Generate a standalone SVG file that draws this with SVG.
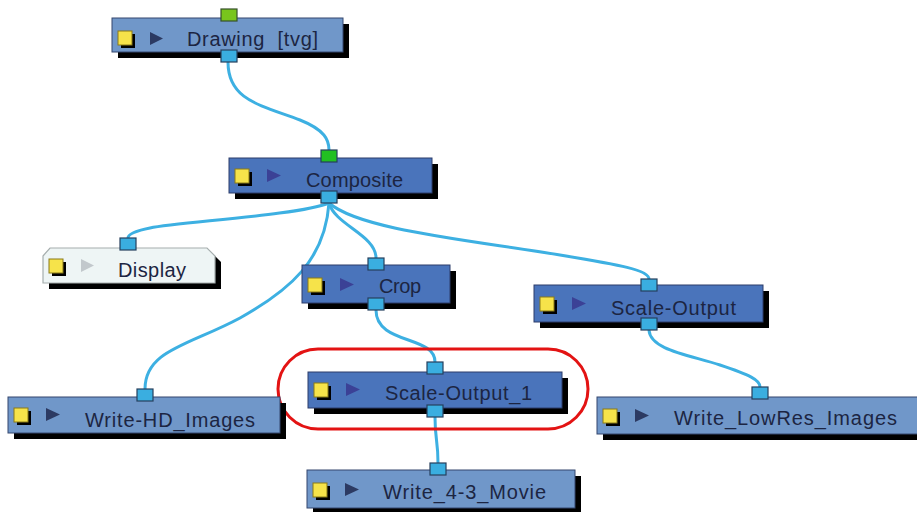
<svg xmlns="http://www.w3.org/2000/svg" width="917" height="512" viewBox="0 0 917 512">
<style>
.bg{fill:#ffffff}
.sh{fill:#000000}
.lt{fill:#7097c9;stroke:#34476e;stroke-width:1}
.dk{fill:#4a74bb;stroke:#2c3d6a;stroke-width:1}
.disp{fill:#eef5f5;stroke:#a6aeae;stroke-width:1.2}
.port{fill:#3aaee0;stroke:#26405e;stroke-width:1.2}
.gport{fill:#22c022;stroke:#26405e;stroke-width:1.2}
.ygport{fill:#78c51c;stroke:#36502a;stroke-width:1.2}
.ysh{fill:#000000}
.ysq{fill:#f6e34a;stroke:#8a7a18;stroke-width:1}
.triL{fill:#2c3a62}
.triD{fill:#3b4196}
.triG{fill:#c2c8cc}
.lbl{font-family:"Liberation Sans",Arial,sans-serif;font-size:20px;fill:#1c2542}
.wire{fill:none;stroke:#3db0e2;stroke-width:3;stroke-linecap:round}
.hl{fill:none;stroke:#e31313;stroke-width:3}
</style>
<rect class="bg" x="0" y="0" width="917" height="512"/>

<g id="connectors">
<path class="wire" d="M228,62 C228,100 260,105 300,120 C325,130 329,140 329,150"/>
<path class="wire" d="M329,203 C300,215 180,222 150,228 C135,231 128,234 128,238"/>
<path class="wire" d="M329,203 C325,260 290,290 240,318 C190,345 145,350 145,389"/>
<path class="wire" d="M329,203 C335,225 376,235 376,258"/>
<path class="wire" d="M329,203 C360,230 470,240 560,255 C620,265 649,270 649,279"/>
<path class="wire" d="M376,310 C376,345 435,335 435,362"/>
<path class="wire" d="M435,417 C435,440 438,440 438,463"/>
<path class="wire" d="M649,330 C650,350 690,355 720,365 C750,375 760,380 760,387"/>
</g>

<g id="node-drawing">
<rect class="sh" x="118" y="24" width="231" height="34"/>
<rect class="lt" x="112" y="18" width="231" height="34"/>
<rect class="ysh" x="121" y="34" width="14" height="14"/>
<rect class="ysq" x="118" y="31" width="14" height="14"/>
<polygon class="triL" points="150,32 163,38.5 150,45"/>
<text class="lbl" x="187" y="46" textLength="131" lengthAdjust="spacing">Drawing&#160; [tvg]</text>
<rect class="ygport" x="221" y="9" width="16" height="12"/>
<rect class="port" x="221" y="50" width="16" height="12"/>
</g>

<g id="node-composite">
<rect class="sh" x="235" y="164" width="203" height="35"/>
<rect class="dk" x="229" y="158" width="203" height="35"/>
<rect class="ysh" x="238" y="172" width="14" height="14"/>
<rect class="ysq" x="235" y="169" width="14" height="14"/>
<polygon class="triD" points="267,169 281,175.5 267,182"/>
<text class="lbl" x="306" y="187" textLength="97" lengthAdjust="spacing">Composite</text>
<rect class="gport" x="321" y="150" width="16" height="12"/>
<rect class="port" x="321" y="191" width="16" height="12"/>
</g>

<g id="node-display">
<path class="sh" d="M49,262 L56,254 L213,254 L221,262 L221,289 L49,289 Z"/>
<path class="disp" d="M43,256 L50,248 L207,248 L215,256 L215,283 L43,283 Z"/>
<rect class="ysh" x="52" y="262" width="14" height="14"/>
<rect class="ysq" x="49" y="259" width="14" height="14"/>
<polygon class="triG" points="81,259 94,265.5 81,272"/>
<text class="lbl" x="118" y="277" textLength="68" lengthAdjust="spacing">Display</text>
<rect class="port" x="120" y="238" width="16" height="12"/>
</g>

<g id="node-crop">
<rect class="sh" x="308" y="271" width="148" height="38"/>
<rect class="dk" x="302" y="265" width="148" height="38"/>
<rect class="ysh" x="311" y="281" width="14" height="14"/>
<rect class="ysq" x="308" y="278" width="14" height="14"/>
<polygon class="triD" points="340,278 354,284.5 340,291"/>
<text class="lbl" x="379" y="293" textLength="42" lengthAdjust="spacing">Crop</text>
<rect class="port" x="368" y="258" width="16" height="12"/>
<rect class="port" x="368" y="298" width="16" height="12"/>
</g>

<g id="node-scale-output">
<rect class="sh" x="540" y="291" width="229" height="37"/>
<rect class="dk" x="534" y="285" width="229" height="37"/>
<rect class="ysh" x="543" y="300" width="14" height="14"/>
<rect class="ysq" x="540" y="297" width="14" height="14"/>
<polygon class="triD" points="572,297 586,303.5 572,310"/>
<text class="lbl" x="611" y="315" textLength="125" lengthAdjust="spacing">Scale-Output</text>
<rect class="port" x="641" y="279" width="16" height="12"/>
<rect class="port" x="641" y="318" width="16" height="12"/>
</g>

<g id="node-scale-output-1">
<rect class="sh" x="314" y="378" width="254" height="36"/>
<rect class="dk" x="308" y="372" width="254" height="36"/>
<rect class="ysh" x="317" y="386" width="14" height="14"/>
<rect class="ysq" x="314" y="383" width="14" height="14"/>
<polygon class="triD" points="346,383 360,389.5 346,396"/>
<text class="lbl" x="385" y="400" textLength="147" lengthAdjust="spacing">Scale-Output_1</text>
<rect class="port" x="427" y="362" width="16" height="12"/>
<rect class="port" x="427" y="405" width="16" height="12"/>
</g>

<g id="highlight">
<rect class="hl" x="278" y="349" width="310" height="80" rx="40" ry="40"/>
</g>

<g id="node-write-hd">
<rect class="sh" x="14" y="403" width="272" height="36"/>
<rect class="lt" x="8" y="397" width="272" height="36"/>
<rect class="ysh" x="17" y="411" width="14" height="14"/>
<rect class="ysq" x="14" y="408" width="14" height="14"/>
<polygon class="triL" points="46,408 60,414.5 46,421"/>
<text class="lbl" x="85" y="427" textLength="170" lengthAdjust="spacing">Write-HD_Images</text>
<rect class="port" x="137" y="389" width="16" height="12"/>
</g>

<g id="node-write-lowres">
<rect class="sh" x="603" y="403" width="330" height="37"/>
<rect class="lt" x="597" y="397" width="330" height="37"/>
<rect class="ysh" x="606" y="412" width="14" height="14"/>
<rect class="ysq" x="603" y="409" width="14" height="14"/>
<polygon class="triL" points="635,409 649,415.5 635,422"/>
<text class="lbl" x="674" y="425" textLength="223" lengthAdjust="spacing">Write_LowRes_Images</text>
<rect class="port" x="752" y="387" width="16" height="12"/>
</g>

<g id="node-write-movie">
<rect class="sh" x="313" y="476" width="268" height="38"/>
<rect class="lt" x="307" y="470" width="268" height="38"/>
<rect class="ysh" x="316" y="486" width="14" height="14"/>
<rect class="ysq" x="313" y="483" width="14" height="14"/>
<polygon class="triL" points="345,483 359,489.5 345,496"/>
<text class="lbl" x="383" y="499" textLength="163" lengthAdjust="spacing">Write_4-3_Movie</text>
<rect class="port" x="430" y="463" width="16" height="12"/>
</g>
</svg>
